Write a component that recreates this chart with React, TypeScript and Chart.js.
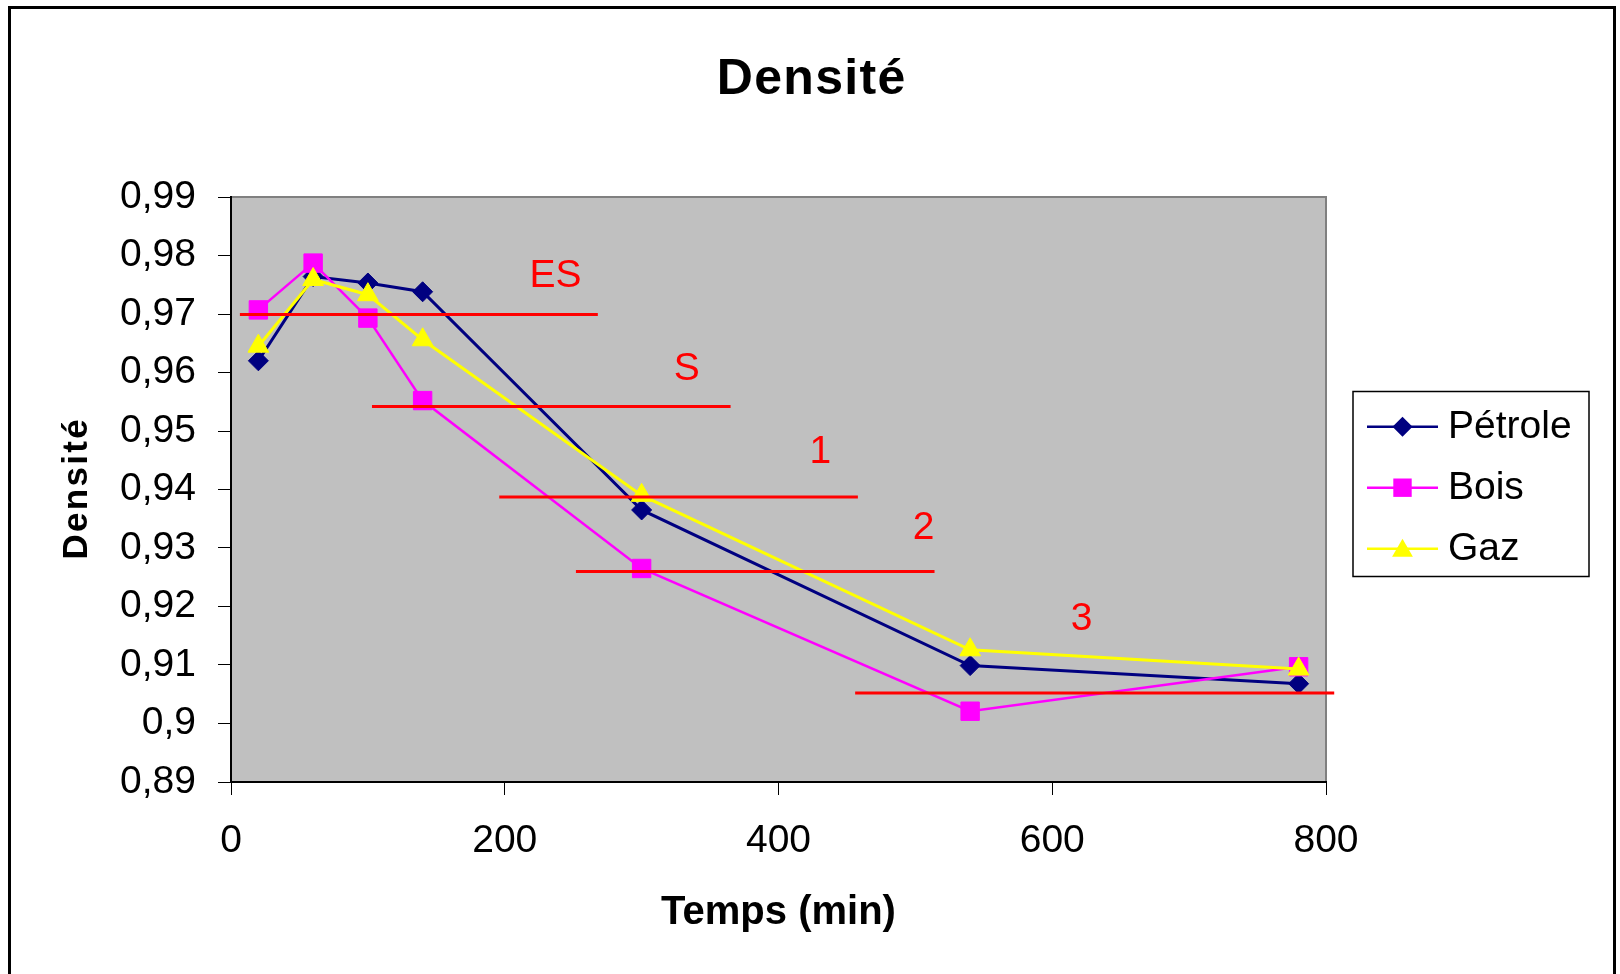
import React, { useEffect, useRef } from 'react';
import { Chart, registerables } from 'chart.js';

Chart.register(...registerables);

// ---- data ----
const timeMin = [20, 60, 100, 140, 300, 540, 780];
const petrole = [0.962, 0.9764, 0.9753, 0.9738, 0.9365, 0.9099, 0.9068];
const bois = [0.9707, 0.9787, 0.9693, 0.9552, 0.9265, 0.9021, 0.9097];
const gaz = [0.9645, 0.9759, 0.9733, 0.9656, 0.939, 0.9126, 0.9093];

const xTickValues = [0, 200, 400, 600, 800];
const yTickValues = [0.89, 0.9, 0.91, 0.92, 0.93, 0.94, 0.95, 0.96, 0.97, 0.98, 0.99];

const zoneLabels = ['ES', 'S', '1', '2', '3'];
const zoneLevel = [0.9699, 0.9542, 0.9387, 0.926, 0.9052];
const zoneStart = [6.5, 103, 196, 252, 456];
const zoneEnd = [268, 365, 458, 514, 806];
const zoneLabelX = [237, 333, 430.5, 506, 621.5];
const zoneLabelY = [0.9764, 0.9606, 0.9464, 0.9333, 0.9179];

const seriesNames = ['Pétrole', 'Bois', 'Gaz'];
const seriesColors = ['#000080', '#FF00FF', '#FFFF00'];

const FONT = "'Liberation Sans', Arial, sans-serif";

function fmt(v: number) {
  return String(parseFloat(v.toFixed(2))).replace('.', ',');
}

function drawMarker(ctx: CanvasRenderingContext2D, kind: number, x: number, y: number, color: string) {
  ctx.fillStyle = color;
  ctx.beginPath();
  if (kind === 0) {
    const r = 10;
    ctx.moveTo(x, y - r);
    ctx.lineTo(x + r, y);
    ctx.lineTo(x, y + r);
    ctx.lineTo(x - r, y);
  } else if (kind === 1) {
    const h = 9.2;
    ctx.rect(x - h, y - h, 2 * h, 2 * h);
  } else {
    const r = 12;
    ctx.moveTo(x, y - r);
    ctx.lineTo(x + 0.866 * r, y + 0.5 * r);
    ctx.lineTo(x - 0.866 * r, y + 0.5 * r);
  }
  ctx.closePath();
  ctx.fill();
}

const framePlugin = {
  id: 'framePlugin',
  beforeDraw(chart: any) {
    const { ctx, chartArea: a } = chart;
    ctx.save();
    ctx.fillStyle = '#FFFFFF';
    ctx.fillRect(0, 0, chart.width, chart.height);
    ctx.strokeStyle = '#000000';
    ctx.lineWidth = 3;
    ctx.strokeRect(9.5, 7.5, 1605, 1200);
    ctx.fillStyle = '#C0C0C0';
    ctx.fillRect(a.left, a.top, a.right - a.left, a.bottom - a.top);
    ctx.strokeStyle = '#808080';
    ctx.lineWidth = 2;
    ctx.strokeRect(a.left, a.top, a.right - a.left, a.bottom - a.top);
    ctx.restore();
  },
};

const textPlugin = {
  id: 'textPlugin',
  afterDatasetsDraw(chart: any) {
    const { ctx } = chart;
    const xs = chart.scales.x;
    const ys = chart.scales.y;
    ctx.save();
    ctx.fillStyle = '#FF0000';
    ctx.font = `39px ${FONT}`;
    ctx.textAlign = 'center';
    ctx.textBaseline = 'middle';
    zoneLabels.forEach((t, i) => {
      ctx.fillText(t, xs.getPixelForValue(zoneLabelX[i]), ys.getPixelForValue(zoneLabelY[i]));
    });
    ctx.restore();
  },
  afterDraw(chart: any) {
    const { ctx, chartArea: a } = chart;
    ctx.save();
    ctx.fillStyle = '#000000';
    ctx.textAlign = 'center';
    ctx.textBaseline = 'alphabetic';
    // chart title
    (ctx as any).letterSpacing = '1.3px';
    ctx.font = `bold 50px ${FONT}`;
    ctx.fillText('Densité', 811 + 0.65, 93.5);
    // x title
    (ctx as any).letterSpacing = '0px';
    ctx.font = `bold 40px ${FONT}`;
    ctx.fillText('Temps (min)', (a.left + a.right) / 2, 924);
    // y title
    (ctx as any).letterSpacing = '2.3px';
    ctx.font = `bold 35px ${FONT}`;
    ctx.translate(87, (a.top + a.bottom) / 2);
    ctx.rotate(-Math.PI / 2);
    ctx.fillText('Densité', 1.15, 0);
    ctx.restore();

    // legend
    ctx.save();
    (ctx as any).letterSpacing = '0px';
    ctx.strokeStyle = '#000000';
    ctx.lineWidth = 1.5;
    ctx.strokeRect(1353, 391.5, 236, 185);
    ctx.font = `39px ${FONT}`;
    ctx.textAlign = 'left';
    ctx.textBaseline = 'middle';
    seriesNames.forEach((name, i) => {
      const y = 426.7 + i * 61;
      ctx.strokeStyle = seriesColors[i];
      ctx.lineWidth = 2.5;
      ctx.beginPath();
      ctx.moveTo(1367, y);
      ctx.lineTo(1438, y);
      ctx.stroke();
      drawMarker(ctx, i, 1402.5, i === 2 ? y + 2 : y, seriesColors[i]);
      ctx.fillStyle = '#000000';
      ctx.fillText(name, 1448, y + 1);
    });
    ctx.restore();
  },
};

export default function App() {
  const ref = useRef<HTMLCanvasElement | null>(null);

  useEffect(() => {
    document.body.style.margin = '0';
    const canvas = ref.current;
    if (!canvas) return;

    const mk = (vals: number[]) => timeMin.map((x, i) => ({ x, y: vals[i] }));

    const seriesDatasets = [
      {
        label: seriesNames[0],
        data: mk(petrole),
        borderColor: seriesColors[0],
        backgroundColor: seriesColors[0],
        pointBackgroundColor: seriesColors[0],
        pointBorderColor: seriesColors[0],
        borderWidth: 3,
        pointStyle: 'rectRot',
        pointRadius: 10,
        pointBorderWidth: 1,
        order: 3,
      },
      {
        label: seriesNames[1],
        data: mk(bois),
        borderColor: seriesColors[1],
        backgroundColor: seriesColors[1],
        pointBackgroundColor: seriesColors[1],
        pointBorderColor: seriesColors[1],
        borderWidth: 2.5,
        pointStyle: 'rect',
        pointRadius: 13,
        pointBorderWidth: 1,
        order: 2,
      },
      {
        label: seriesNames[2],
        data: mk(gaz),
        borderColor: seriesColors[2],
        backgroundColor: seriesColors[2],
        pointBackgroundColor: seriesColors[2],
        pointBorderColor: seriesColors[2],
        borderWidth: 3,
        pointStyle: 'triangle',
        pointRadius: 12,
        pointBorderWidth: 1,
        order: 1,
      },
    ];

    const zoneDatasets = zoneLabels.map((lab, i) => ({
      label: 'zone ' + lab,
      data: [
        { x: zoneStart[i], y: zoneLevel[i] },
        { x: zoneEnd[i], y: zoneLevel[i] },
      ],
      borderColor: '#FF0000',
      backgroundColor: '#FF0000',
      borderWidth: 3,
      pointRadius: 0,
      clip: false,
      order: 0,
    }));

    const chart = new Chart(canvas, {
      type: 'line',
      data: { datasets: [...seriesDatasets, ...zoneDatasets] as any },
      options: {
        animation: false,
        responsive: false,
        maintainAspectRatio: false,
        devicePixelRatio: 1,
        layout: { padding: { left: 0, top: 197, right: 294, bottom: 0 } },
        elements: { line: { tension: 0 } },
        plugins: {
          legend: { display: false },
          title: { display: false },
          tooltip: { enabled: false },
        },
        scales: {
          x: {
            type: 'linear',
            min: 0,
            max: 800,
            afterBuildTicks: (s: any) => {
              s.ticks = xTickValues.map((v) => ({ value: v }));
            },
            afterFit: (s: any) => {
              s.height = 192;
            },
            grid: { drawOnChartArea: false, drawTicks: true, tickLength: 13, color: '#000000', lineWidth: 1 },
            border: { display: true, color: '#000000', width: 2 },
            ticks: {
              padding: 23,
              color: '#000000',
              font: { family: FONT, size: 39 },
              maxRotation: 0,
              autoSkip: false,
              callback: (v: any) => String(v),
            },
          },
          y: {
            type: 'linear',
            min: 0.89,
            max: 0.99,
            afterBuildTicks: (s: any) => {
              s.ticks = yTickValues.map((v) => ({ value: v }));
            },
            afterFit: (s: any) => {
              s.width = 231;
            },
            grid: { drawOnChartArea: false, drawTicks: true, tickLength: 13, color: '#000000', lineWidth: 1 },
            border: { display: true, color: '#000000', width: 2 },
            ticks: {
              padding: 22,
              color: '#000000',
              font: { family: FONT, size: 39 },
              autoSkip: false,
              callback: (v: any) => fmt(Number(v)),
            },
          },
        },
      },
      plugins: [framePlugin, textPlugin],
    } as any);

    return () => chart.destroy();
  }, []);

  return (
    <div style={{ position: 'absolute', left: 0, top: 0, width: 1620, height: 974 }}>
      <canvas ref={ref} width={1620} height={974} style={{ display: 'block' }} />
    </div>
  );
}
